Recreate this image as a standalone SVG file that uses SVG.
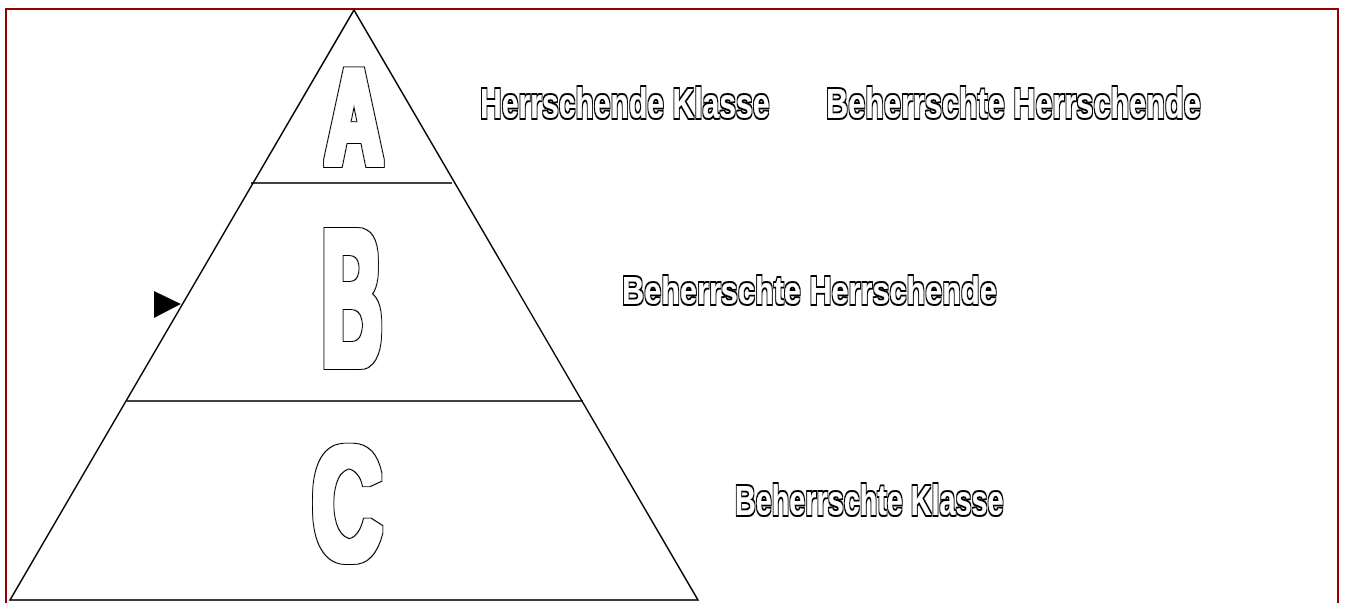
<svg xmlns="http://www.w3.org/2000/svg" width="1345" height="603" viewBox="0 0 1345 603">
<defs>
<filter id="fatBig" x="-20%" y="-20%" width="140%" height="140%">
<feMorphology in="SourceAlpha" operator="dilate" radius="4" result="outer"/>
<feMorphology in="SourceAlpha" operator="dilate" radius="3" result="inner"/>
<feFlood flood-color="#ffffff" result="w"/>
<feComposite in="w" in2="inner" operator="in" result="wi"/>
<feMerge><feMergeNode in="outer"/><feMergeNode in="wi"/></feMerge>
</filter>
<filter id="fatSmall" x="-5%" y="-20%" width="110%" height="140%">
<feMorphology in="SourceAlpha" operator="dilate" radius="2" result="outer"/>
<feFlood flood-color="#ffffff" result="w"/>
<feComposite in="w" in2="SourceAlpha" operator="in" result="wi"/>
<feMerge><feMergeNode in="outer"/><feMergeNode in="wi"/></feMerge>
</filter>
</defs>
<style>
.big{font-family:"Liberation Sans",Arial,sans-serif;font-weight:bold;fill:#000;filter:url(#fatBig)}
.lbl{font-family:"Liberation Sans",Arial,sans-serif;font-weight:bold;fill:#000;font-size:42px;filter:url(#fatSmall)}
.ln{stroke:#000;stroke-width:1.5;fill:none}
</style>
<rect x="0" y="0" width="1345" height="603" fill="#fff"/>
<rect id="frame" x="6" y="9" width="1332" height="620" fill="none" stroke="#990000" stroke-width="2"/>
<g id="pyramid">
<polygon class="ln" points="354,10 10,600 698,600"/>
</g>
<g id="connectors">
<line class="ln" x1="251" y1="183" x2="452" y2="183"/>
<line class="ln" x1="127" y1="401" x2="583" y2="401"/>
<polygon points="154,291 154,318 181,304" fill="#000"/>
</g>
<g id="nodeA"><text class="big" x="325" y="164" font-size="136" textLength="58" lengthAdjust="spacingAndGlyphs">A</text></g>
<g id="nodeB"><text class="big" x="322" y="366" font-size="196" textLength="60" lengthAdjust="spacingAndGlyphs">B</text></g>
<g id="nodeC"><text class="big" x="312" y="559" font-size="162" textLength="70" lengthAdjust="spacingAndGlyphs">C</text></g>
<g id="label1"><text class="lbl" transform="matrix(0.717,0,0,1,480,118)">Herrschende Klasse</text></g>
<g id="label2"><text class="lbl" transform="matrix(0.73,0,0,1,826,118)">Beherrschte Herrschende</text></g>
<g id="label3"><text class="lbl" transform="matrix(0.73,0,0,0.93,622,304)">Beherrschte Herrschende</text></g>
<g id="label4"><text class="lbl" transform="matrix(0.685,0,0,1,735,515)">Beherrschte Klasse</text></g>
</svg>
